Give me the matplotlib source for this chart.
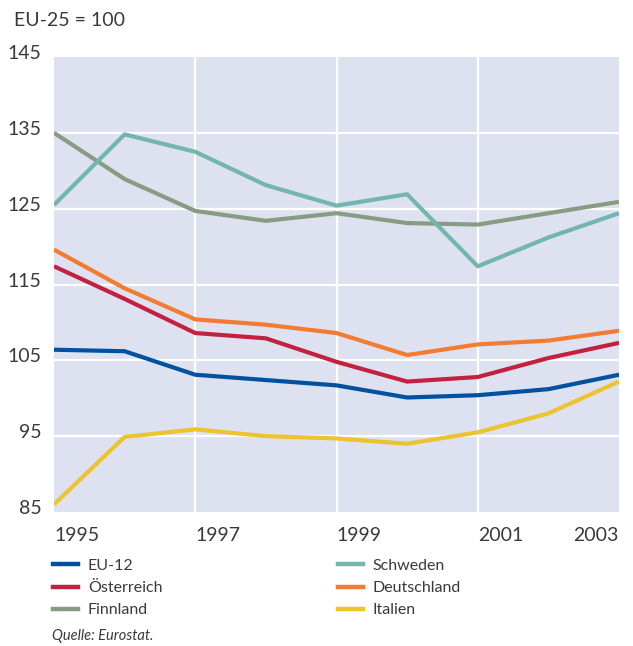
import matplotlib
matplotlib.use("Agg")
import matplotlib.pyplot as plt
import matplotlib.transforms as mtransforms
from matplotlib.lines import Line2D

plt.rcParams['font.family'] = ['Lato', 'DejaVu Sans']

years = [1995, 1996, 1997, 1998, 1999, 2000, 2001, 2002, 2003]
eu12 = [106.4, 106.2, 103.1, 102.4, 101.7, 100.1, 100.4, 101.2, 103.1]
oesterreich = [117.4, 113.1, 108.6, 107.9, 104.8, 102.2, 102.8, 105.3, 107.3]
finnland = [135.0, 128.9, 124.7, 123.4, 124.4, 123.1, 122.9, 124.4, 125.9]
schweden = [125.5, 134.8, 132.5, 128.1, 125.4, 126.9, 117.4, 121.2, 124.4]
deutschland = [119.6, 114.5, 110.4, 109.7, 108.6, 105.7, 107.1, 107.6, 108.9]
italien = [86.0, 94.9, 95.9, 95.0, 94.7, 94.0, 95.5, 98.0, 102.2]

names = ["EU-12", "Österreich", "Finnland", "Schweden", "Deutschland", "Italien"]
series = [eu12, oesterreich, finnland, schweden, deutschland, italien]
colors = ["#0052a0", "#c2213f", "#879c82", "#73b6ad", "#f47c31", "#ebc42f"]

yticks = [85, 95, 105, 115, 125, 135, 145]
xticks = [1995, 1997, 1999, 2001, 2003]

txt = "#3a3a3a"

fig = plt.figure(figsize=(6.33, 6.46), dpi=100)
ax = fig.add_axes([54/633, 1-512/646, (619-54)/633, (512-57)/646])
ax.set_facecolor("#dee1f0")
for s in ax.spines.values():
    s.set_visible(False)

# white grid lines
for y in yticks[1:-1]:
    ax.axhline(y, color="white", lw=1.6, zorder=1)
for x in [1997, 1999, 2001]:
    ax.axvline(x, color="white", lw=1.6, zorder=1)

# draw order: back to front
order = [2, 3, 4, 1, 0, 5]
for i in order:
    ax.plot(years, series[i], color=colors[i], lw=3.0, zorder=3,
            solid_capstyle="butt", solid_joinstyle="round")

ax.set_xlim(1995, 2003)
ax.set_ylim(85, 145)
ax.set_yticks(yticks)
ax.set_yticklabels([str(v) for v in yticks])
ax.set_xticks(xticks)
ax.set_xticklabels([str(v) for v in xticks])
ax.tick_params(axis="both", length=0, labelsize=14, labelcolor=txt)
ax.tick_params(axis="y", pad=9)
ax.tick_params(axis="x", pad=11)

up = mtransforms.ScaledTranslation(0, 5/100, fig.dpi_scale_trans)
for lbl in ax.get_yticklabels():
    lbl.set_transform(lbl.get_transform() + up)
xl = ax.get_xticklabels()
for lbl in xl[:-1]:
    lbl.set_horizontalalignment("left")
xl[-1].set_horizontalalignment("right")

fig.text(14/633, 1-20/646, "EU-25 = 100", fontsize=14, color=txt,
         va="center", ha="left")

handles = [Line2D([0], [0], color=c, lw=3.2) for c in colors]
leg_kw = dict(loc="upper left", frameon=False, fontsize=11.5,
              handlelength=1.6, handletextpad=0.6, labelspacing=0.5,
              borderaxespad=0, borderpad=0.3, labelcolor=txt)
leg1 = fig.legend(handles[:3], names[:3],
                  bbox_to_anchor=(48/633, 1-554/646), **leg_kw)
leg2 = fig.legend(handles[3:], names[3:],
                  bbox_to_anchor=(333/633, 1-554/646), **leg_kw)

fig.text(52/633, 1-636/646, "Quelle: Eurostat.", fontsize=10.5, color=txt,
         style="italic", va="center", ha="left")

fig.savefig("out.png", dpi=100)
